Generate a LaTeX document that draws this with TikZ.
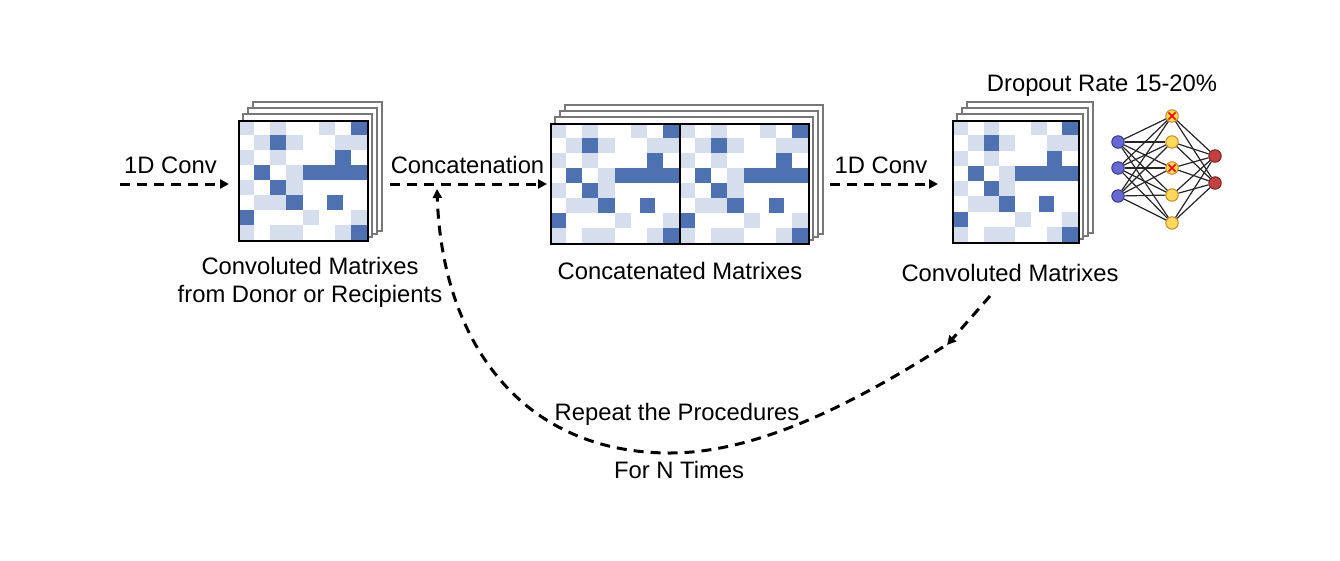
\documentclass[tikz,border=0pt]{standalone}
\usepackage{fontspec}
\setmainfont{Liberation Sans}
\usetikzlibrary{arrows.meta}
\definecolor{hm0}{RGB}{255,255,255}
\definecolor{hm1}{RGB}{214,222,237}
\definecolor{hm2}{RGB}{78,113,178}
\definecolor{framegray}{RGB}{120,120,120}
\definecolor{nnblue}{RGB}{104,104,212}
\definecolor{nnblueb}{RGB}{50,50,130}
\definecolor{nnyel}{RGB}{255,218,90}
\definecolor{nnyelb}{RGB}{190,130,30}
\definecolor{nnred}{RGB}{196,64,64}
\definecolor{nnredb}{RGB}{110,30,30}
% heat map grid: x0 y0 width height
\newcommand\heatgrid[4]{%
  \pgfmathsetmacro\hmcw{#3/8}%
  \pgfmathsetmacro\hmch{#4/8}%
  \foreach \hmrow [count=\j from 0] in {{1,0,1,0,0,1,0,2},{0,1,2,1,0,0,1,1},{1,0,1,0,0,0,2,0},{0,2,0,1,2,2,2,2},{1,0,2,1,0,0,0,0},{0,1,1,2,0,0,0,0},{2,0,0,0,1,0,0,1},{1,0,1,1,0,0,1,2}}{%
    \foreach \v [count=\i from 0] in \hmrow {%
      \fill[hm\v] ({#1+\i*\hmcw},{#2+\j*\hmch}) rectangle ++(\hmcw,\hmch);
    }%
  }%
  \fill[hm2] ({#1+5.55*\hmcw},{#2+5*\hmch}) rectangle ++({0.95*\hmcw},\hmch);
}
% stacked back frames: x0 y0 x1 y1
\newcommand\stackframes[4]{%
  \foreach \k in {3,2,1}{%
    \draw[framebox] ({#1+5*\k},{#2-6*\k}) rectangle ({#3+5*\k},{#4-3*\k});
  }%
}
\begin{document}
\begin{tikzpicture}[x=1pt,y=-1pt,
  flow/.style={line width=3pt, dash pattern=on 10pt off 7pt, -{Triangle[length=9pt,width=9pt]}},
  framebox/.style={draw=framegray, line width=1.6pt, fill=white},
  front/.style={draw=black, line width=1.6pt, inner sep=0pt, anchor=north west},
  txt/.style={font=\fontsize{23.8}{28}\selectfont, inner sep=0pt, anchor=base},
  neuron/.style={circle, minimum size=12.5pt, inner sep=0pt, line width=0.9pt},
  inneuron/.style={neuron, fill=nnblue, draw=nnblueb},
  hidneuron/.style={neuron, fill=nnyel, draw=nnyelb},
  outneuron/.style={neuron, fill=nnred, draw=nnredb},
  nnedge/.style={line width=1.2pt, black!85},
  xmark/.style={red, line width=1.6pt}]
\useasboundingbox (0,0) rectangle (1340,560);
\fill[white] (0,0) rectangle (1340,560);

% matrix 1
\stackframes{238}{120}{367}{240}
\heatgrid{238}{120}{129}{120}
\node[front, minimum width=129pt, minimum height=120pt] (m1) at (238,120) {};

% matrix 2
\stackframes{550}{123}{808}{243}
\heatgrid{550}{123}{129}{120}
\heatgrid{679}{123}{129}{120}
\node[front, minimum width=258pt, minimum height=120pt] (m2) at (550,123) {};
\draw[black, line width=1.6pt] (m2.north) -- (m2.south);

% matrix 3
\stackframes{952}{120}{1078}{242}
\heatgrid{952}{120}{126}{122}
\node[front, minimum width=126pt, minimum height=122pt] (m3) at (952,120) {};

% neural network
\node[inneuron] (i1) at (1118,142) {};
\node[inneuron] (i2) at (1118,168) {};
\node[inneuron] (i3) at (1118,196) {};
\node[hidneuron] (h1) at (1172,116) {};
\node[hidneuron] (h2) at (1172,142) {};
\node[hidneuron] (h3) at (1172,168) {};
\node[hidneuron] (h4) at (1172,195) {};
\node[hidneuron] (h5) at (1172,223) {};
\node[outneuron] (o1) at (1215,156) {};
\node[outneuron] (o2) at (1215,183) {};
\foreach \a in {1,2,3}{\foreach \b in {1,...,5}{\draw[nnedge] (i\a) -- (h\b);}}
\foreach \b in {1,...,5}{\foreach \c in {1,2}{\draw[nnedge] (h\b) -- (o\c);}}
\draw[xmark] (h1.center) ++(-3.5,-3.5) -- ++(7,7) (h1.center) ++(-3.5,3.5) -- ++(7,-7);
\draw[xmark] (h3.center) ++(-3.5,-3.5) -- ++(7,7) (h3.center) ++(-3.5,3.5) -- ++(7,-7);

% texts
\node[txt] (t1) at (170.5,173) {1D Conv};
\node[txt] (t2) at (467.5,173) {Concatenation};
\node[txt] (t3) at (881,173) {1D Conv};
\node[txt] (t4) at (1102,91) {Dropout Rate 15-20\%};
\node[txt] (t5) at (310,274) {Convoluted Matrixes};
\node[txt] (t5b) at (310,302) {from Donor or Recipients};
\node[txt] (t6) at (680,279) {Concatenated Matrixes};
\node[txt] (t7) at (1010,281) {Convoluted Matrixes};
\node[txt] (t8) at (677,420) {Repeat the Procedures};
\node[txt] (t9) at (679,478) {For N Times};

% connectors
\coordinate (c1) at (120,184);
\draw[flow, shorten >=9pt] (c1) -- (c1 -| m1.west);
\coordinate (c2) at (390,184);
\draw[flow, shorten >=3pt] (c2) -- (c2 -| m2.west);
\coordinate (c3) at (830,184);
\draw[flow, shorten >=14pt] (c3) -- (c3 -| m3.west);
\coordinate (r0) at (990,296);
\coordinate (r1) at (947,345);
\draw[flow] (r0) -- (r1);
\coordinate (r2) at (943,347);
\coordinate (rb) at (670,453);
\coordinate (r3) at (437,189);
\draw[flow] (r2) .. controls (859,400) and (760,453) .. (rb)
               .. controls (520,453) and (442,340) .. (r3);
\end{tikzpicture}
\end{document}
